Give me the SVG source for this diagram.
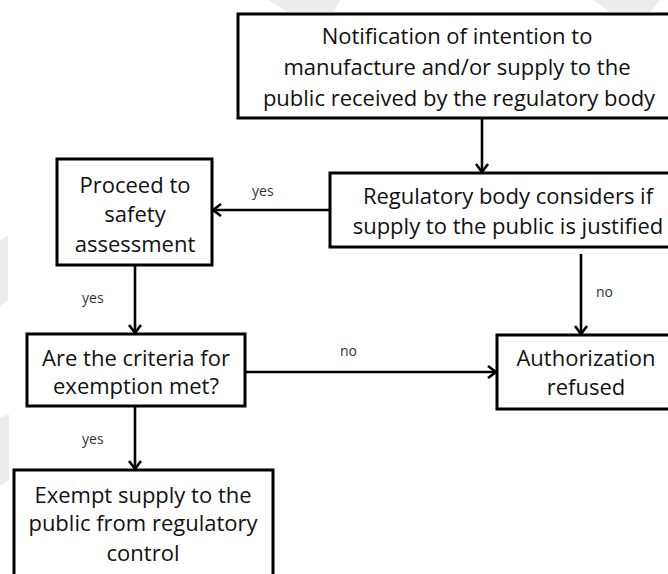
<svg xmlns="http://www.w3.org/2000/svg" width="668" height="574" viewBox="0 0 668 574">
<defs>
<marker id="arr" markerWidth="12" markerHeight="14" refX="10" refY="7" orient="auto" markerUnits="userSpaceOnUse">
<path d="M2,1 L10,7 L2,13" fill="none" stroke="#000" stroke-width="2.6"/>
</marker>
</defs>
<style>
.box{fill:#fff;stroke:#000;stroke-width:3}
.t{font-family:"Open Sans",sans-serif;font-size:22px;fill:#111;text-anchor:middle}
.l{font-family:"Open Sans",sans-serif;font-size:14px;fill:#333}
.c{stroke:#000;stroke-width:2.6;fill:none}
.wm{fill:#ececec}
</style>
<rect width="668" height="574" fill="#fff"/>
<g id="watermark">
<polygon class="wm" points="268,0 340,0 334,12 288,12"/>
<polygon class="wm" points="593,0 660,0 650,12 610,12"/>
<polygon class="wm" points="0,240 8,236 8,300 0,306"/>
<polygon class="wm" points="0,418 9,414 9,480 0,486"/>
</g>
<g id="connectors">
<line class="c" x1="482" y1="118" x2="482" y2="172" marker-end="url(#arr)"/>
<line class="c" x1="330" y1="210" x2="213" y2="210" marker-end="url(#arr)"/>
<line class="c" x1="135" y1="265" x2="135" y2="333" marker-end="url(#arr)"/>
<line class="c" x1="581" y1="254" x2="581" y2="334" marker-end="url(#arr)"/>
<line class="c" x1="245" y1="372" x2="496" y2="372" marker-end="url(#arr)"/>
<line class="c" x1="135" y1="406" x2="135" y2="469" marker-end="url(#arr)"/>
<text class="l" x="252" y="196">yes</text>
<text class="l" x="82" y="303">yes</text>
<text class="l" x="340" y="356">no</text>
<text class="l" x="596" y="297">no</text>
<text class="l" x="82" y="444">yes</text>
</g>
<g id="notification">
<rect class="box" x="238" y="14" width="440" height="104"/>
<text class="t" x="457" y="44">Notification of intention to</text>
<text class="t" x="457" y="75">manufacture and/or supply to the</text>
<text class="t" x="459" y="106">public received by the regulatory body</text>
</g>
<g id="considers">
<rect class="box" x="330" y="173" width="360" height="74"/>
<text class="t" x="508" y="204">Regulatory body considers if</text>
<text class="t" x="508" y="234">supply to the public is justified</text>
</g>
<g id="proceed">
<rect class="box" x="57" y="159" width="155" height="106"/>
<text class="t" x="135" y="193">Proceed to</text>
<text class="t" x="135" y="222">safety</text>
<text class="t" x="135" y="252">assessment</text>
</g>
<g id="criteria">
<rect class="box" x="27" y="334" width="218" height="72"/>
<text class="t" x="136" y="366">Are the criteria for</text>
<text class="t" x="136" y="394">exemption met?</text>
</g>
<g id="refused">
<rect class="box" x="497" y="335" width="190" height="74"/>
<text class="t" x="586" y="366">Authorization</text>
<text class="t" x="586" y="395">refused</text>
</g>
<g id="exempt">
<rect class="box" x="14" y="470" width="259" height="120"/>
<text class="t" x="143" y="503">Exempt supply to the</text>
<text class="t" x="143" y="531">public from regulatory</text>
<text class="t" x="143" y="561">control</text>
</g>
</svg>
